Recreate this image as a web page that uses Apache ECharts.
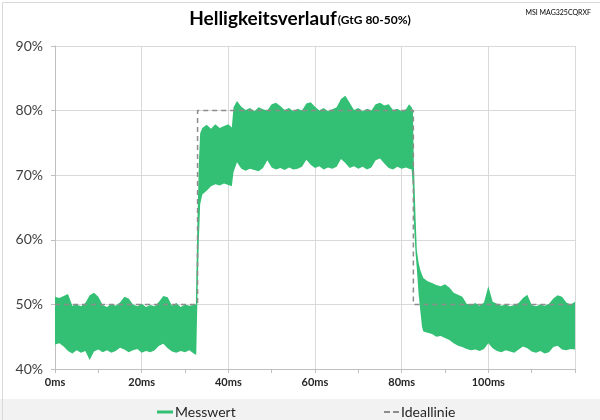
<!DOCTYPE html>
<html>
<head>
<meta charset="utf-8">
<script src="https://cdn.jsdelivr.net/npm/echarts@6/dist/echarts.min.js"></script>
<style>html,body{margin:0;padding:0;background:#fff}#c{width:600px;height:420px}</style>
</head>
<body>
<div id="c"></div>
<script>
// time axis (ms)
const timeMs = [
  0,1,2,3,4,5,6,7,8,9,10,11,12,13,14,15,16,17,18,19,20,21,22,23,24,25,26,27,28,29,30,31,32,32.5,
  32.6,32.9,33.2,33.5,34,35,36,37,38,39,40,40.8,41.2,42,43,44,45,46,47,48,49,50,51,52,53,54,55,56,57,58,59,60,
  61,62,63,64,65,66,67,68,69,70,71,72,73,74,75,76,77,78,79,80,81,81.7,82.3,
  82.6,82.8,83.2,83.5,83.9,84.3,84.7,85,86,87,88,89,90,91,92,93,94,95,96,97,98,99,100,
  101,102,103,104,105,106,107,108,109,110,111,112,113,114,115,116,117,118,119,120
];
// upper envelope of measured brightness (%)
const upperPct = [
  51.2,51.0,51.3,51.6,49.8,50.0,49.7,50.2,51.4,51.8,51.2,49.9,49.6,50.1,49.8,50.3,51.2,50.9,50.0,49.7,50.1,49.6,49.9,49.7,50.4,51.3,51.1,49.8,50.2,49.6,50.0,49.8,49.9,50.0,
  54.0,64.0,72.0,76.5,77.3,77.8,77.2,77.9,77.3,77.6,77.9,77.4,80.5,81.5,80.6,80.1,80.4,79.9,80.5,80.2,80.0,81.0,81.2,80.7,80.1,80.4,79.9,80.3,80.0,81.1,81.3,80.6,
  80.0,80.4,79.9,80.2,80.5,81.8,82.3,81.2,80.1,80.4,79.9,80.3,80.0,81.0,81.2,80.8,81.0,80.1,80.3,79.9,80.2,81.0,80.5,
  80.0,72.0,63.6,58.4,56.5,55.3,54.6,54.1,53.6,53.3,53.0,52.8,53.1,52.6,51.8,51.5,51.2,50.1,49.9,50.2,49.8,50.3,52.8,
  50.4,50.1,49.8,50.0,49.7,49.9,50.2,51.0,51.5,49.9,49.7,50.0,49.8,50.1,50.9,51.4,51.2,50.3,50.0,50.4
];
// lower envelope of measured brightness (%)
const lowerPct = [
  43.8,44.0,43.5,42.8,42.4,42.9,42.5,42.8,41.4,42.7,43.0,42.6,42.9,42.5,42.8,43.3,43.0,42.6,42.9,43.1,42.5,42.8,42.6,42.9,43.6,43.9,43.2,42.7,42.5,42.8,42.6,42.9,42.4,42.2,
  42.3,52.0,60.0,65.5,67.0,67.6,68.3,68.6,68.4,68.7,68.5,68.3,70.5,72.0,71.0,70.7,71.0,70.8,70.6,71.1,72.3,71.2,70.9,71.1,70.8,71.2,70.9,71.0,71.3,72.4,71.6,71.1,
  71.4,70.9,71.2,71.0,71.3,72.5,71.9,71.1,71.4,71.0,71.3,70.9,71.2,72.3,72.6,71.8,71.1,70.9,71.3,71.0,71.2,71.0,70.9,
  68.0,63.0,58.0,55.5,51.7,49.0,46.5,45.8,45.6,45.4,45.0,45.1,44.8,44.5,44.0,43.6,43.4,43.1,42.9,43.0,42.8,43.1,44.0,
  43.2,42.8,42.6,42.9,42.7,42.5,43.0,43.5,43.2,42.7,42.5,42.8,42.4,42.6,43.4,43.6,43.0,42.9,43.1,43.0
];
// ideal line
const idealMs = [0, 32.9, 32.9, 82.7, 82.7, 120];
const idealPct = [50, 50, 80, 80, 50, 50];
const xTickLabels = ['0ms','20ms','40ms','60ms','80ms','100ms'];

const GREEN = '#34c074';
const bandData = timeMs.map((t,i)=>[t, lowerPct[i], upperPct[i]]);
const idealData = idealMs.map((t,i)=>[t, idealPct[i]]);
const FONT = 'Lato, "Open Sans", sans-serif';

const chart = echarts.init(document.getElementById('c'));
chart.setOption({
  animation: false,
  backgroundColor: '#ffffff',
  title: [{
    text: '{a|Helligkeitsverlauf}{b|(GtG 80-50%)}',
    left: 'center', top: 4,
    textStyle: { rich: {
      a: { fontFamily: FONT, fontWeight: 'bold', fontSize: 19, color: '#000' },
      b: { fontFamily: FONT, fontWeight: 'bold', fontSize: 12, color: '#000', padding: [4,0,0,1] }
    } }
  }, {
    text: 'MSI MAG325CQRXF', right: 4, top: 4,
    textStyle: { fontFamily: FONT, fontSize: 7, fontWeight: 'normal', color: '#000' }
  }],
  graphic: [{
    type: 'rect', left: 0, top: 399, z: -10,
    shape: { width: 600, height: 21 },
    style: { fill: '#f2f2f2' }
  }, {
    type: 'rect', left: 0, top: 0, z: 100, silent: true,
    shape: { width: 599, height: 419 },
    style: { fill: 'none', stroke: '#d9d9d9', lineWidth: 1 }
  }],
  legend: [{
    left: 152, top: 400, itemWidth: 16, itemHeight: 3, itemGap: 2,
    textStyle: { fontFamily: FONT, fontSize: 14, color: '#262626', padding: [0,0,0,-3] },
    data: [{ name: 'Messwert', icon: 'rect', itemStyle: { color: GREEN } }]
  }, {
    left: 379, top: 400, itemWidth: 15, itemHeight: 2, itemGap: 2,
    textStyle: { fontFamily: FONT, fontSize: 14, color: '#262626', padding: [0,0,0,-3] },
    data: [{ name: 'Ideallinie', icon: 'path://M0,0h6v2h-6zM9,0h6v2h-6z', itemStyle: { color: '#8c8c8c' } }]
  }],
  grid: { left: 55, right: 25, top: 46, bottom: 51, containLabel: false },
  xAxis: {
    type: 'value', min: 0, max: 120, interval: 20,
    axisLine: { show: true, lineStyle: { color: '#bfbfbf' } },
    axisTick: { show: true, length: 4, lineStyle: { color: '#bfbfbf' } },
    minorTick: { show: true, splitNumber: 2, length: 4, lineStyle: { color: '#bfbfbf' } },
    splitLine: { show: true, lineStyle: { color: '#d9d9d9' } },
    axisLabel: {
      fontFamily: FONT, fontSize: 11, fontWeight: 'bold', color: '#262626', margin: 8,
      formatter: v => { const i = Math.round(v/20); return v < 120 ? xTickLabels[i] : ''; }
    }
  },
  yAxis: {
    type: 'value', min: 40, max: 90, interval: 10,
    axisLine: { show: true, lineStyle: { color: '#bfbfbf' } },
    axisTick: { show: true, length: 4, lineStyle: { color: '#bfbfbf' } },
    splitLine: { show: true, lineStyle: { color: '#d9d9d9' } },
    axisLabel: { fontFamily: FONT, fontSize: 14, color: '#404040', margin: 12, formatter: '{value}%' }
  },
  series: [{
    name: 'Messwert', type: 'custom', data: bandData, silent: true, z: 2,
    itemStyle: { color: GREEN },
    encode: { x: 0, y: [1, 2] },
    renderItem: function (params, api) {
      if (params.dataIndex !== 0) return null;
      const pts = [];
      for (let i = 0; i < bandData.length; i++) pts.push(api.coord([bandData[i][0], bandData[i][2]]));
      for (let i = bandData.length - 1; i >= 0; i--) pts.push(api.coord([bandData[i][0], bandData[i][1]]));
      return {
        type: 'polygon',
        shape: { points: pts, smooth: 0 },
        style: { fill: GREEN, stroke: null, lineWidth: 0 }
      };
    }
  }, {
    name: 'Ideallinie', type: 'line', data: idealData,
    symbol: 'none', silent: true,
    lineStyle: { width: 1.5, color: '#8c8c8c', type: [5, 4] },
    itemStyle: { color: '#8c8c8c' }, z: 5
  }]
});
</script>
</body>
</html>
